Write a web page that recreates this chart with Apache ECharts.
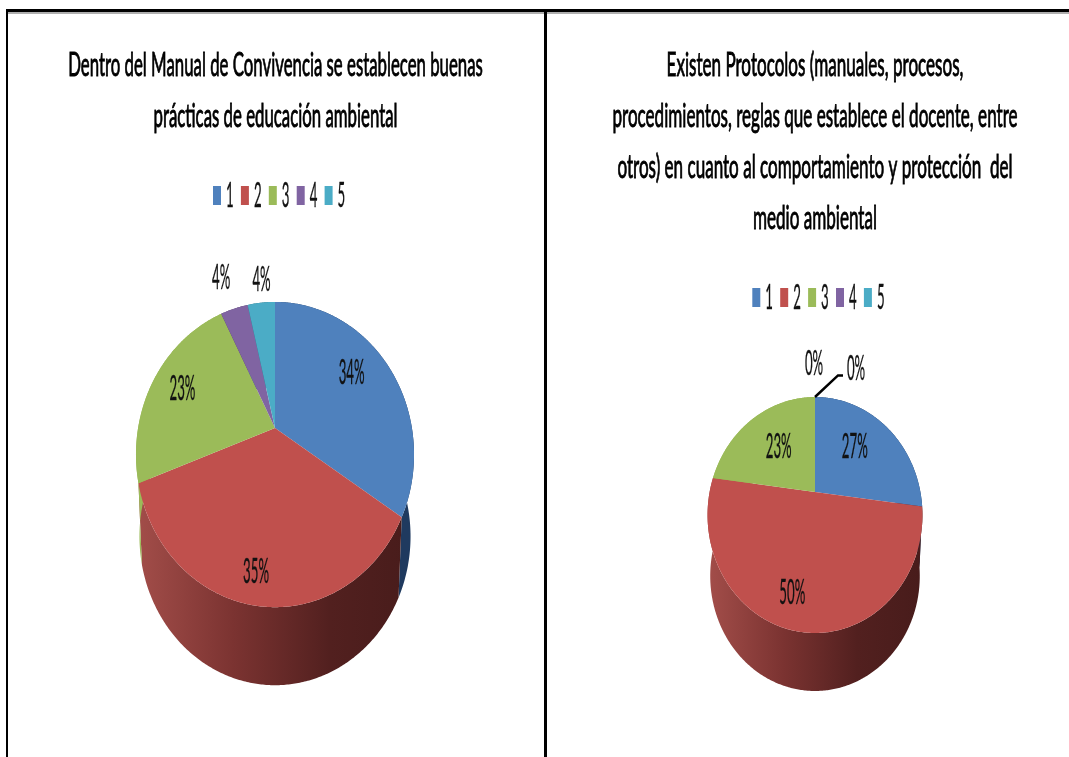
<!DOCTYPE html>
<html><head><meta charset="utf-8">
<style>html,body{margin:0;padding:0;background:#fff}#c{width:1069px;height:757px}</style>
<script src="https://cdn.jsdelivr.net/npm/echarts@6/dist/echarts.min.js"></script>
</head><body><div id="c"></div>
<script>
var categories = ['1','2','3','4','5'];
var valuesA = [34.2,35.1,23.2,3.75,3.75];
var valuesB = [27,50,23,0,0];
var titleA = ['Dentro del Manual de Convivencia se establecen buenas','prácticas de educación ambiental'];
var titleB = ['Existen Protocolos (manuales, procesos,','procedimientos, reglas que establece el docente, entre','otros) en cuanto al comportamiento y protección  del','medio ambiental'];
var colors = ['#4F81BD','#C0504D','#9BBB59','#8064A2','#4BACC6'];
var wallColors = ['#1F3A5F','#C0504D','#9BBB59','#4D3B62','#276A7C'];

var FONT = 'Lato,"Noto Sans",sans-serif';
var layoutA = {cx:275,ay:428,a:136.9,b:148,k:0.174,depth:82.5,wallScale:.975,
  labelR:[.7,.7,.7,1.15,1.15], nudge:[[-3,-9],[-7,27],[-7,-3],[-8,-16],[2,-7]], leader:[]};
var layoutB = {cx:815,ay:492,a:105.4,b:113.5,k:0.195,depth:61.5,wallScale:.975,
  labelR:[.7,.7,.7,1.15,1.15], nudge:[[-11,3],[-12,10],[8,9],[-1,-22],[41,-17]], leader:[4]};

function project(L,theta,r){
  var u=Math.sin(theta)*r, v=-Math.cos(theta)*r, d=1-L.k*v;
  return [L.cx+L.a*u/d, L.ay+L.b*v/d];
}
function pieSeries(name,vals,L){
  var total=vals.reduce(function(s,v){return s+v;},0);
  return {type:'custom',name:name,coordinateSystem:'none',silent:true,animation:false,
    data:vals.map(function(v,i){return {name:categories[i],value:[v,i]};}),
    renderItem:function(params,api){
      var v=api.value(0), i=api.value(1), before=0;
      for(var j=0;j<i;j++) before+=vals[j];
      var t0=before/total*2*Math.PI, t1=(before+v)/total*2*Math.PI, kids=[], arc=[];
      var n=Math.max(2,Math.ceil((t1-t0)/0.01));
      for(var s=0;s<=n;s++) arc.push(project(L,t0+(t1-t0)*s/n,1));
      if(v>0){
        var low=arc.slice().reverse().map(function(p){
          return [L.cx+(p[0]-L.cx)*L.wallScale, L.ay+(p[1]-L.ay)*L.wallScale+L.depth];});
        var wallFill=wallColors[i];
        if(i===1){
          wallFill=new echarts.graphic.LinearGradient(L.cx-L.a,0,L.cx+L.a,0,[
            {offset:0,color:'#A24D49'},{offset:.35,color:'#7B3331'},{offset:.7,color:'#52201F'},{offset:1,color:'#481C1B'}],true);
        }
        kids.push({type:'polygon',z2:1,shape:{points:arc.concat(low)},style:{fill:wallFill}});
        var apex=project(L,0,0);
        kids.push({type:'polygon',z2:2,shape:{points:[apex].concat(arc)},style:{fill:colors[i]}});
      }
      var mid=(t0+t1)/2, p=project(L,mid,L.labelR[i]), nd=L.nudge[i];
      var lx=p[0]+nd[0], ly=p[1]+nd[1];
      kids.push({type:'text',z2:4,x:lx,y:ly,scaleX:.66,scaleY:1.75,
        style:{text:Math.round(v/total*100)+'%',fill:'#111',stroke:'#111',lineWidth:.2,font:'20px '+FONT,align:'center',verticalAlign:'middle'}});
      if(L.leader.indexOf(i)>=0){
        var e=project(L,mid,1);
        kids.push({type:'polyline',z2:3,shape:{points:[e,[lx-18,ly+7],[lx-13,ly+7]]},style:{fill:'none',stroke:'#000',lineWidth:2.5}});
      }
      return {type:'group',children:kids};
    }};
}
function titleGraphics(lines,cx,sx){
  return lines.map(function(t,i){
    return {type:'text',x:cx,y:65+i*51,scaleX:sx,scaleY:1.6,z:5,
      style:{text:t,fill:'#000',stroke:'#000',lineWidth:.6,font:'21px '+FONT,align:'center',verticalAlign:'middle'}};
  });
}
function legendGraphics(x0,y0){
  var out=[];
  categories.forEach(function(c,i){
    out.push({type:'rect',x:x0+i*27.9,y:y0,shape:{width:8,height:19},style:{fill:colors[i]}});
    out.push({type:'text',x:x0+i*27.9+13,y:y0+10,scaleX:.66,scaleY:1.75,style:{text:c,fill:'#111',stroke:'#111',lineWidth:.2,font:'20px '+FONT,align:'left',verticalAlign:'middle'}});
  });
  return out;
}
function bar(x,y,w,h,f){return {type:'rect',x:x,y:y,shape:{width:w,height:h},style:{fill:f}};}
var chart=echarts.init(document.getElementById('c'),null,{renderer:'canvas'});
chart.setOption({
  animation:false,backgroundColor:'#fff',
  graphic:{elements:[
    bar(8,12,1061,2,'#AFAFAF'),
    bar(6,9,1063,3,'#000'),
    bar(6,9,2,748,'#000'),
    bar(544,9,3,748,'#000')
  ].concat(titleGraphics(titleA,275.5,.8),titleGraphics(titleB,815,.813),legendGraphics(213,186),legendGraphics(752.3,288))},
  series:[pieSeries('A',valuesA,layoutA),pieSeries('B',valuesB,layoutB)]
});
</script></body></html>
